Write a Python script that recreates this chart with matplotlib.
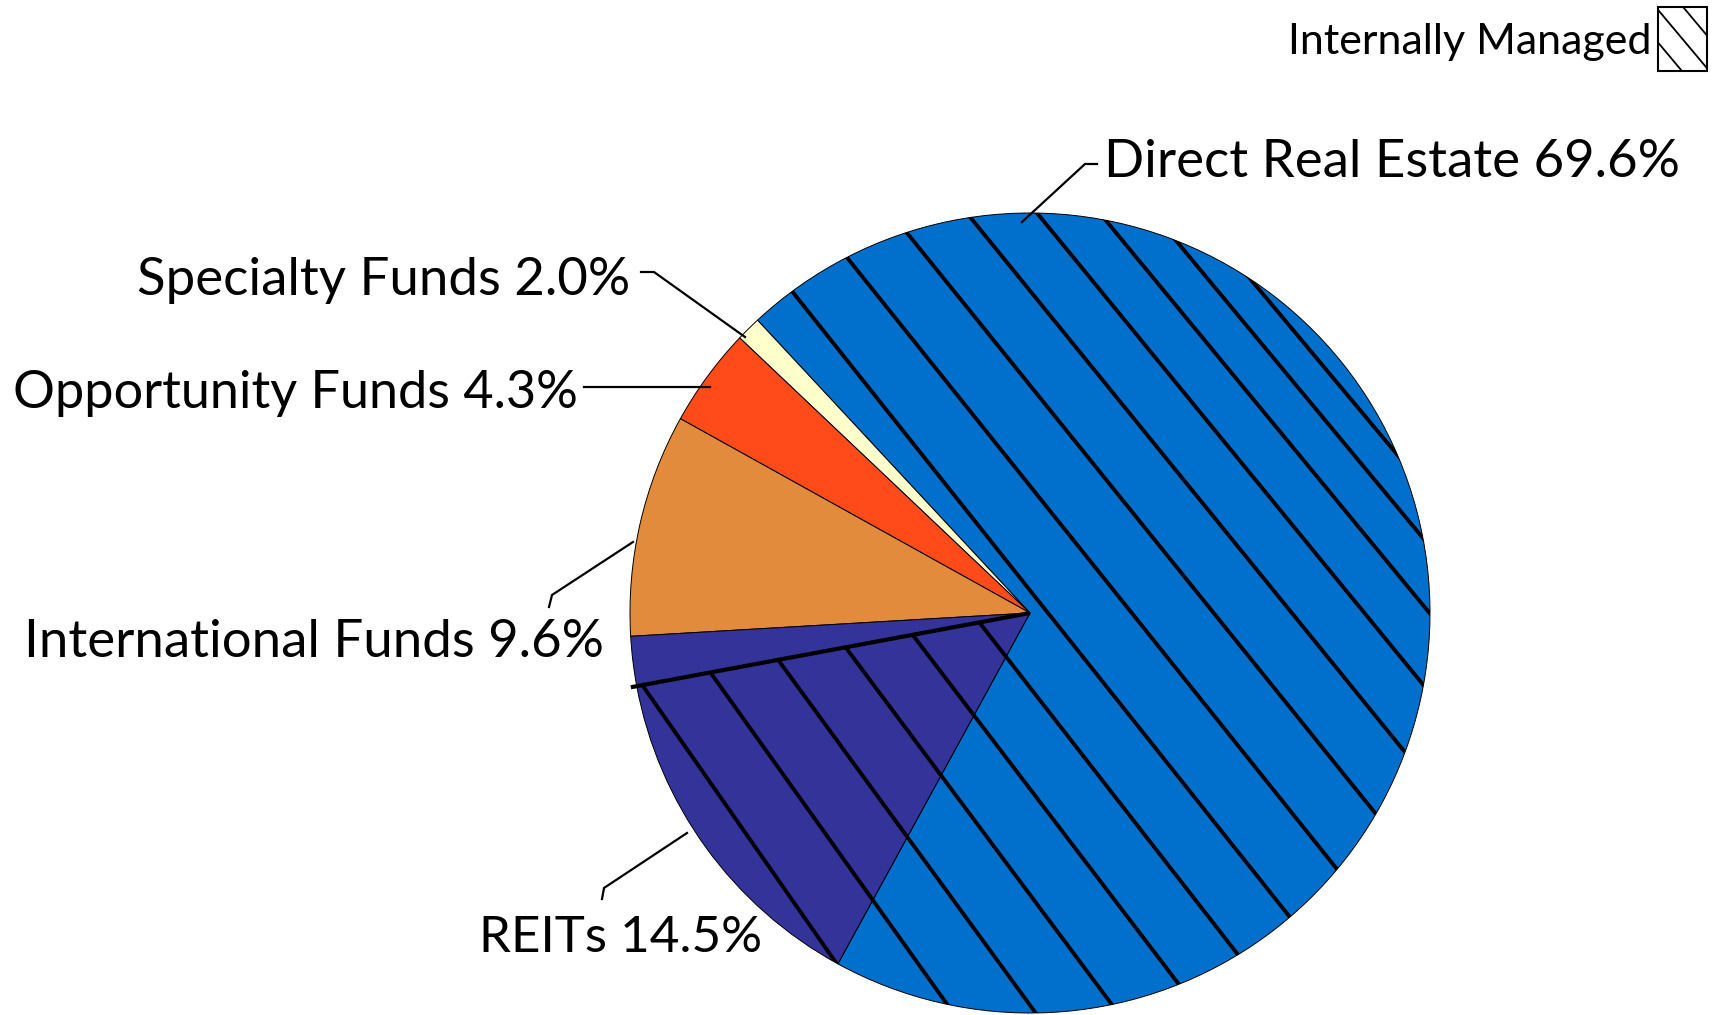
import numpy as np
import matplotlib
matplotlib.use("Agg")
import matplotlib.pyplot as plt
from matplotlib.patches import Rectangle
from matplotlib.lines import Line2D

plt.rcParams['font.family'] = ['Lato', 'DejaVu Sans']

W, H = 1717, 1015

# ---------------- data ----------------
categories = ["Direct Real Estate", "Specialty Funds", "Opportunity Funds",
              "International Funds", "REITs"]
label_pct = [69.6, 2.0, 4.3, 9.6, 14.5]

# wedges as drawn in the picture (share of the circle, %); REITs split in
# a not-internally-managed part and an internally managed (hatched) part
wedge_names = ["Direct Real Estate", "Specialty Funds", "Opportunity Funds",
               "International Funds", "REITs (external)", "REITs (internal)"]
wedge_share = [69.9, 1.0, 4.0, 9.0, 2.0, 14.1]
internally_managed = [True, False, False, False, False, True]
wedge_colors = ["#0070CC", "#FFFFCC", "#FF4A1A", "#E28B3C", "#333399", "#333399"]

legend_label = "Internally Managed"

# ---------------- figure ----------------
fig = plt.figure(figsize=(W / 100, H / 100), dpi=100)
ax = fig.add_axes([0, 0, 1, 1])

cx, cy = 1030, H - 613
R = 400

wedges, _ = ax.pie(wedge_share, colors=wedge_colors, startangle=241.3,
                   counterclock=True, center=(cx, cy), radius=R,
                   wedgeprops=dict(edgecolor="black", linewidth=0.7),
                   frame=True)
ax.set_xlim(0, W)
ax.set_ylim(0, H)
ax.set_aspect("equal")
ax.axis("off")

# hatch lines for internally managed wedges (slightly fanning pattern)
x_ref = cx + 18          # where the central hatch line crosses the centre height


def hatch_offset(k):
    if k <= 0:
        return 76.0 * k
    return 84.1 * k - 0.312 * k ** 3


def hatch_angle(k):
    return 51.5 - 0.6 * k if k < 0 else 51.5 - 0.2 * k


for w, im in zip(wedges, internally_managed):
    if not im:
        continue
    for k in range(-8, 8):
        ang = np.deg2rad(hatch_angle(k))
        d = np.array([np.cos(ang), -np.sin(ang)])
        p = np.array([x_ref + hatch_offset(k), cy])
        a, b = p - 900 * d, p + 900 * d
        ln = Line2D([a[0], b[0]], [a[1], b[1]], color="black", lw=2.8,
                    solid_capstyle="butt", zorder=3)
        ax.add_line(ln)
        ln.set_clip_path(w)

# thick boundary of the internally managed REITs part
th = np.deg2rad(wedges[5].theta1)
ax.plot([cx, cx + 406 * np.cos(th)], [cy, cy + 406 * np.sin(th)],
        color="black", lw=3.0, solid_capstyle="butt", zorder=4)

# ---------------- labels with leader lines ----------------
fs = 38
def lab(text, x, y, ha, size=fs):
    ax.text(x, H - y, text, fontsize=size, ha=ha, va="baseline", color="black")

def leader(xs, ys):
    ax.plot(xs, [H - v for v in ys], color="black", lw=1.6, zorder=5,
            solid_joinstyle="miter")

txt = [f"{c} {v:.1f}%" for c, v in zip(categories, label_pct)]

lab(txt[0], 1104, 177, "left")
leader([1097, 1085, 1022], [164, 164, 222])

lab(txt[1], 630, 295, "right")
leader([641, 654, 745], [272, 272, 337])

lab(txt[2], 578, 408, "right", 37.6)
leader([584, 710], [387, 387])

lab(txt[3], 604, 657, "right")
leader([549, 552, 633], [607, 595, 542])

lab(txt[4], 479, 952, "left", 36.8)
leader([602, 604, 687], [899, 888, 833])

# ---------------- legend ----------------
ax.text(1651, H - 54, legend_label, fontsize=31, ha="right", va="baseline",
        color="black")
box = Rectangle((1658, H - 71), 49, 64, facecolor="white", edgecolor="black",
                lw=1.5, zorder=6)
ax.add_patch(box)
la = np.deg2rad(50)
ld = np.array([np.cos(la), -np.sin(la)])
ln_n = np.array([np.sin(la), np.cos(la)])
bc = np.array([1658 + 24.5, H - 39])
for k in (-1, 0, 1):
    p = bc + k * 21 * ln_n
    a, b = p - 80 * ld, p + 80 * ld
    l2 = Line2D([a[0], b[0]], [a[1], b[1]], color="black", lw=1.3, zorder=7)
    ax.add_line(l2)
    l2.set_clip_path(box)

fig.savefig("out.png", dpi=100)
